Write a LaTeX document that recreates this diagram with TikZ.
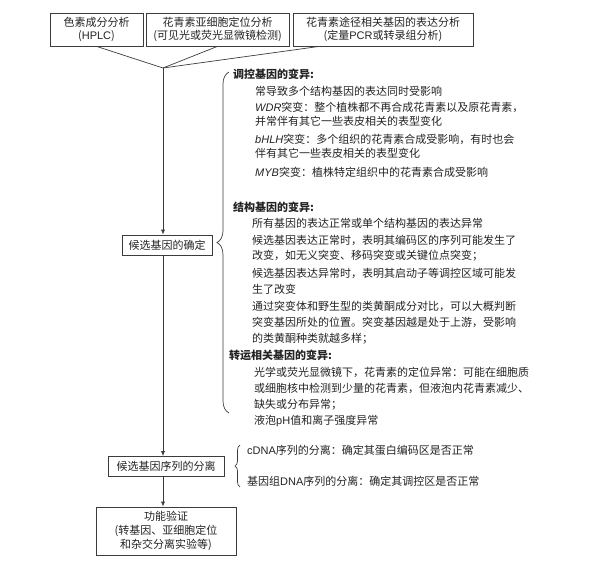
\documentclass[tikz,border=0pt]{standalone}
\usepackage{fontspec}
\setmainfont{Noto Sans CJK SC}
\newfontfamily\latfont{Liberation Sans}
\usepackage{xcolor}
\usepackage{tikz}
\usetikzlibrary{arrows.meta, positioning, calc, decorations.pathreplacing}
\definecolor{inkgray}{RGB}{35,35,35}
\definecolor{linegray}{RGB}{60,60,60}
\newcommand{\lat}[1]{{\latfont #1}}
\newcommand{\lati}[1]{{\latfont\itshape #1}}

\begin{document}
\begin{tikzpicture}[x=1pt, y=-1pt,
    font=\fontsize{11}{12.5}\selectfont, text=inkgray,
    stepbox/.style={rectangle, draw=linegray, line width=0.7pt, inner sep=0pt, align=center},
    note/.style={anchor=west, inner sep=0pt},
    head/.style={note, font=\fontsize{11}{12.5}\selectfont\bfseries},
    conn/.style={draw=linegray, line width=0.7pt},
    arr/.style={conn, -{Latex[length=5pt, width=4pt]}},
    curly/.style={conn, decorate, decoration={brace, amplitude=#1}}
]
    \useasboundingbox (0,0) rectangle (603,566);

    % Analysis boxes
    \node[stepbox, minimum width=93pt, minimum height=33pt] (pigment) at (96.5,29.5) {色素成分分析\\(\lat{HPLC})};
    \node[stepbox, minimum width=143pt, minimum height=33pt] (subcell) at (217.5,29.5) {花青素亚细胞定位分析\\(可见光或荧光显微镜检测)};
    \node[stepbox, minimum width=180pt, minimum height=33pt] (pathway) at (383,29.5) {花青素途径相关基因的表达分析\\(定量\lat{PCR}或转录组分析)};

    \coordinate (join) at (163,68);

    % Main flow
    \node[stepbox, minimum width=90pt, minimum height=20pt] (candidate) at (167,245) {候选基因的确定};
    \node[stepbox, minimum width=116pt, minimum height=20pt] (seqsep) at (166,466.5) {候选基因序列的分离};
    \node[stepbox, minimum width=140pt, minimum height=48pt, font=\fontsize{11}{14}\selectfont] (verify) at (166,531) {功能验证\\(转基因、亚细胞定位\\和杂交分离实验等)};

    % Regulatory genes
    \node[head] (reghead) at (233,74) {调控基因的变异:};
    \node[note] (reg1) at (255,91) {常导致多个结构基因的表达同时受影响};
    \node[note] (reg2) at (255,107) {\lati{WDR}突变：整个植株都不再合成花青素以及原花青素，};
    \node[note] (reg3) at (255,121) {并常伴有其它一些表皮相关的表型变化};
    \node[note] (reg4) at (255,139) {\lati{bHLH}突变：多个组织的花青素合成受影响，有时也会};
    \node[note] (reg5) at (255,153) {伴有其它一些表皮相关的表型变化};
    \node[note] (reg6) at (255,172) {\lati{MYB}突变：植株特定组织中的花青素合成受影响};

    % Structural genes
    \node[head] (strhead) at (233,207) {结构基因的变异:};
    \node[note] (str1) at (252,223) {所有基因的表达正常或单个结构基因的表达异常};
    \node[note] (str2) at (252,240) {候选基因表达正常时，表明其编码区的序列可能发生了};
    \node[note] (str3) at (252,256) {改变，如无义突变、移码突变或关键位点突变；};
    \node[note] (str4) at (252,273) {候选基因表达异常时，表明其启动子等调控区域可能发};
    \node[note] (str5) at (252,289) {生了改变};
    \node[note] (str6) at (252,306) {通过突变体和野生型的类黄酮成分对比，可以大概判断};
    \node[note] (str7) at (252,322) {突变基因所处的位置。突变基因越是处于上游，受影响};
    \node[note] (str8) at (252,339) {的类黄酮种类就越多样；};

    % Transport genes
    \node[head] (trnhead) at (229,355) {转运相关基因的变异:};
    \node[note] (trn1) at (254,372) {光学或荧光显微镜下，花青素的定位异常：可能在细胞质};
    \node[note] (trn2) at (254,388) {或细胞核中检测到少量的花青素，但液泡内花青素减少、};
    \node[note] (trn3) at (254,405) {缺失或分布异常；};
    \node[note] (trn4) at (254,421) {液泡\lat{pH}值和离子强度异常};

    % Sequence isolation
    \node[note] (cdna) at (247,450) {\lat{cDNA}序列的分离：确定其蛋白编码区是否正常};
    \node[note] (gdna) at (247,481) {基因组\lat{DNA}序列的分离：确定其调控区是否正常};

    \coordinate (bigtop) at (229,72);
    \coordinate (bigbot) at (229,413);
    \coordinate (smalltop) at (240,445);
    \coordinate (smallbot) at (240,487);

    % Connections
    \draw[conn] (pigment.south) -- (join);
    \draw[conn] (subcell.south) -- (join);
    \draw[conn] ($(pathway.south west)+(27,0)$) -- (join);
    \draw[arr] (join) -- (join |- candidate.north);
    \draw[arr] (candidate.south -| join) -- (join |- seqsep.north);
    \draw[arr] (seqsep.south -| join) -- (join |- verify.north);

    \draw[curly=12pt] (bigbot) -- (bigtop);
    \draw[curly=5pt] (smallbot) -- (smalltop);

\end{tikzpicture}
\end{document}
